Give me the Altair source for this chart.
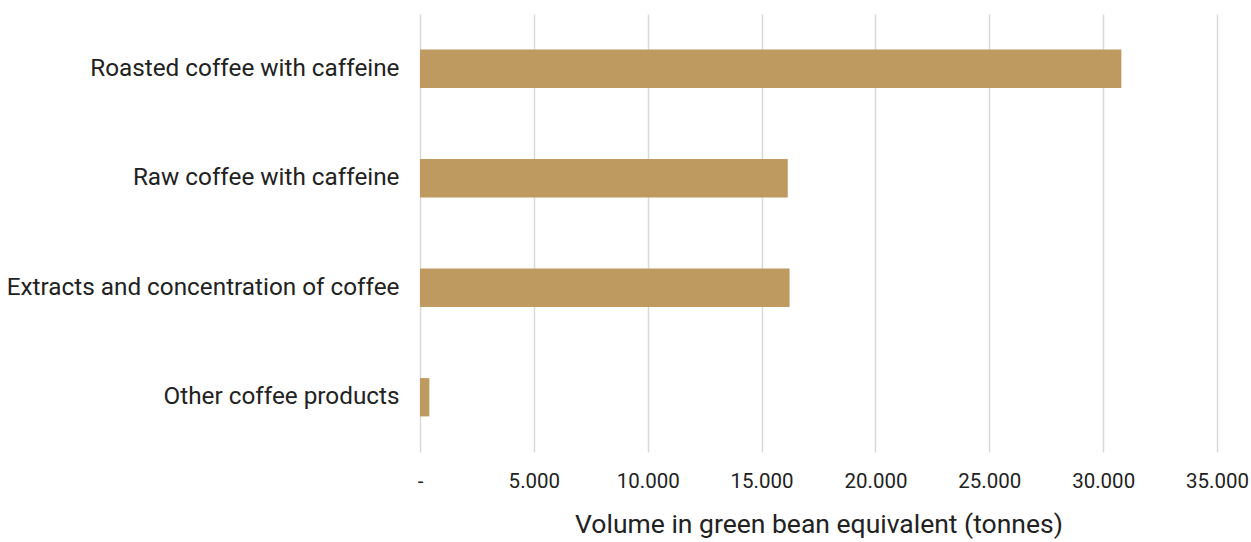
import altair as alt
import pandas as pd

# Coffee product categories and volumes (tonnes, green bean equivalent)
categories = [
    "Roasted coffee with caffeine",
    "Raw coffee with caffeine",
    "Extracts and concentration of coffee",
    "Other coffee products",
]
volumes = [30800, 16150, 16230, 410]

df = pd.DataFrame({"category": categories, "volume": volumes})

FONT = "Roboto"

chart = (
    alt.Chart(df)
    .mark_bar(color="#BE9A60")
    .encode(
        x=alt.X(
            "volume:Q",
            scale=alt.Scale(domain=[0, 35000], nice=False),
            axis=alt.Axis(
                values=[0, 5000, 10000, 15000, 20000, 25000, 30000, 35000],
                labelExpr="datum.value == 0 ? '-' : replace(format(datum.value, ',d'), ',', '.')",
                title="Volume in green bean equivalent (tonnes)",
                grid=True,
                gridColor="#d9d9d9",
                gridWidth=1.5,
                domain=False,
                ticks=False,
                labelFlush=False,
                labelPadding=19,
                labelFontSize=20.5,
                labelFont=FONT,
                labelColor="#222222",
                titleFont=FONT,
                titleFontSize=26.5,
                titleFontWeight="normal",
                titleColor="#222222",
                titlePadding=20,
            ),
        ),
        y=alt.Y(
            "category:N",
            sort=categories,
            scale=alt.Scale(paddingInner=0.65, paddingOuter=0.325),
            axis=alt.Axis(
                title=None,
                domain=False,
                ticks=False,
                grid=False,
                labelPadding=21,
                labelFontSize=24.3,
                labelFont=FONT,
                labelColor="#222222",
                labelLimit=500,
            ),
        ),
    )
    .properties(
        width=797,
        height=438,
        background="white",
        autosize=alt.AutoSizeParams(type="none"),
        padding={"left": 420, "top": 14, "right": 34, "bottom": 90},
    )
    .configure_view(stroke=None)
)

chart.save("out.html", embed_options={"renderer": "svg", "actions": False})
